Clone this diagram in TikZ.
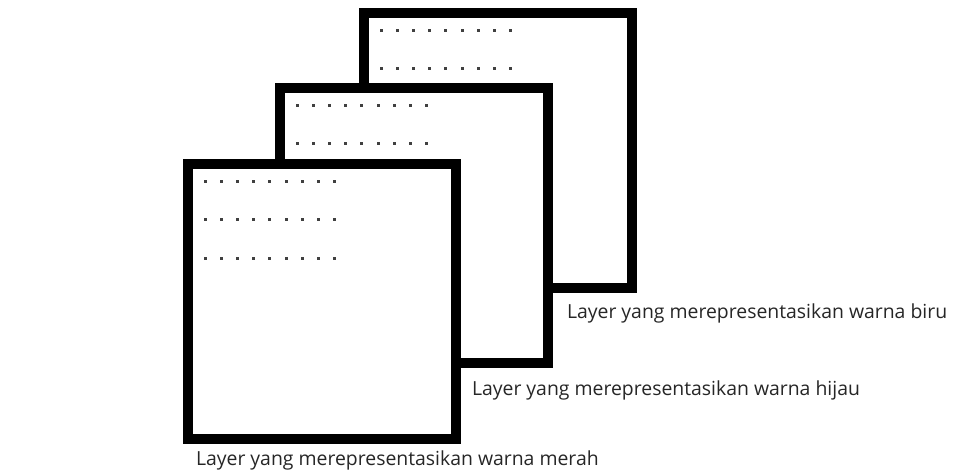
\documentclass[tikz,border=0pt]{standalone}
\usepackage{fontspec}
\setmainfont{Open Sans}
\begin{document}
\begin{tikzpicture}[x=1pt,y=-1pt,line width=10pt]
\tikzset{layer/.style={draw=black,fill=white,line join=miter},
  lbl/.style={anchor=base west,inner sep=0pt,text=black!85,font=\fontsize{19.4}{24}\selectfont}}
\useasboundingbox (0,0) rectangle (957,470);
% back to front: biru, hijau, merah
\foreach \x/\y in {364/13,280/88,188/164} {
  \draw[layer] (\x,\y) rectangle ++(268,275);
  \foreach \r in {0,1,2} \foreach \c in {0,...,8}
    \fill[black!75] (\x+16+16.1*\c,\y+16.5+38*\r) rectangle ++(3,3);
}
\node[lbl] (biru) at (562,318) {Layer yang merepresentasikan warna biru};
\node[lbl] (hijau) at (467,395) {Layer yang merepresentasikan warna hijau};
\node[lbl] (merah) at (191,465) {Layer yang merepresentasikan warna merah};
\end{tikzpicture}
\end{document}
